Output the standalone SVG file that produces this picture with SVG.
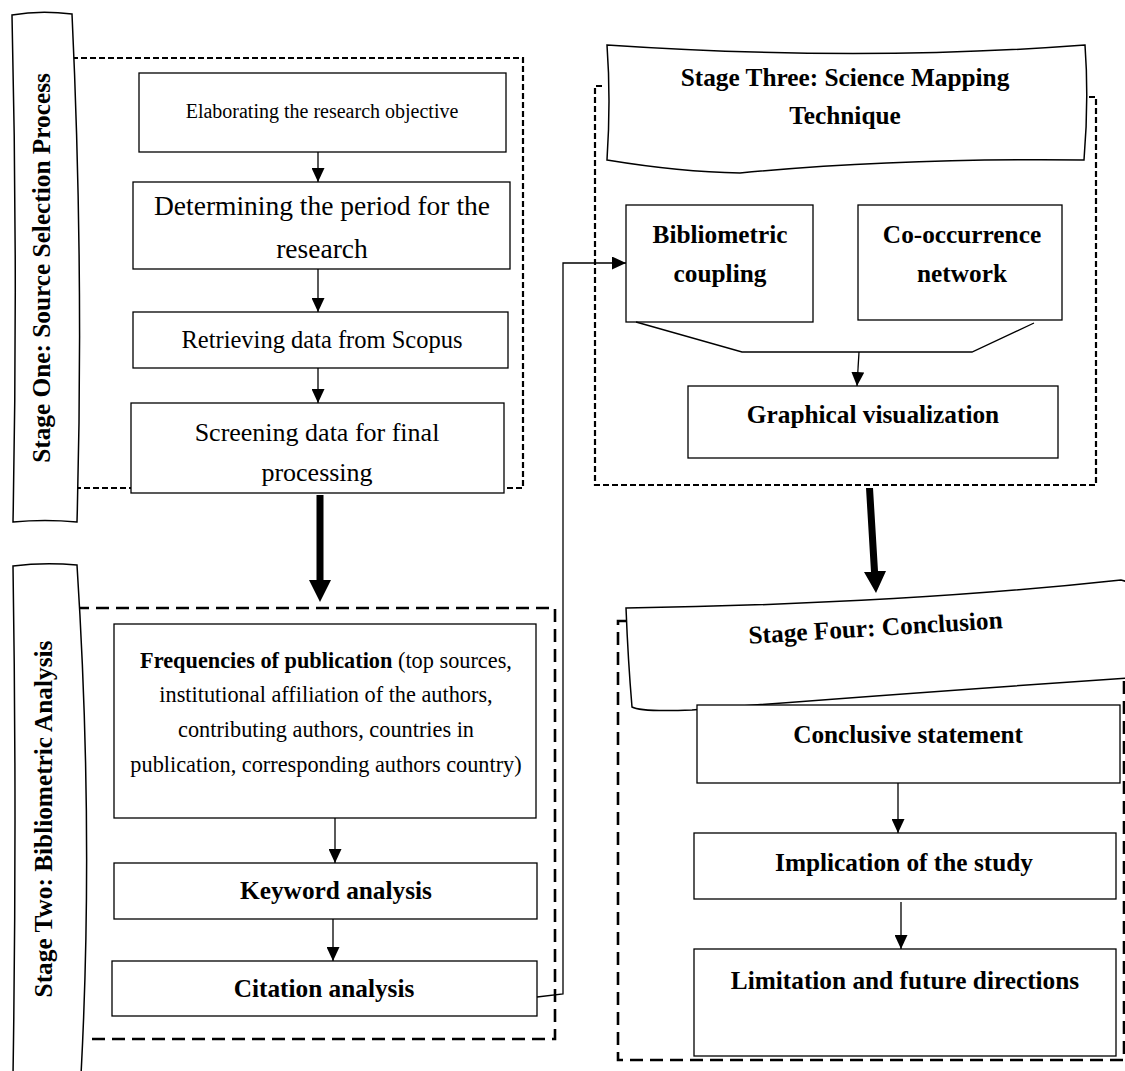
<svg xmlns="http://www.w3.org/2000/svg" width="1125" height="1071" viewBox="0 0 1125 1071">
<style>
.t{font-family:"Liberation Serif","Times New Roman",serif;fill:#000;text-anchor:middle}
.b{font-weight:bold;font-size:25.3px}
.box{fill:#fff;stroke:#000;stroke-width:1.3}
.ban{fill:#fff;stroke:#000;stroke-width:1.5}
.ds{fill:none;stroke:#000;stroke-width:2.2;stroke-dasharray:6 3}
.dl{fill:none;stroke:#000;stroke-width:2.6;stroke-dasharray:13 7}
.c{fill:none;stroke:#000;stroke-width:1.3}
.thick{fill:#000;stroke:none}
</style>
<defs>
<marker id="ah" viewBox="0 0 14 13" refX="14" refY="6.5" markerWidth="14" markerHeight="13" markerUnits="userSpaceOnUse" orient="auto">
<path d="M0,0 L14,6.5 L0,13 z" fill="#000"/>
</marker>
<clipPath id="clipScr"><rect x="130" y="400" width="380" height="88"/></clipPath>
</defs>

<g id="stage-frames">
<path class="ds" d="M72,58 H523 V488 H73"/>
<path class="dl" d="M76,608 H555 V1039 H86"/>
<path class="ds" d="M602,86 H595 V485 H1096 V97 H1086"/>
<path class="dl" d="M627,621 H618 V1060 H1124 V621"/>
</g>

<g id="stage-one-banner">
<path class="ban" d="M12,15 Q40,10 72,14 Q84,270 77,522 Q45,519 13,522 Q18,270 12,15 Z"/>
<text class="t b" transform="translate(50,268) rotate(-90)">Stage One: Source Selection Process</text>
</g>

<g id="stage-two-banner">
<path class="ban" d="M13,566 Q44,562 77,565 Q94,830 81,1075 L13,1075 Q17,820 13,566 Z"/>
<text class="t b" transform="translate(52,819) rotate(-90)">Stage Two: Bibliometric Analysis</text>
</g>

<g id="stage-three-banner">
<path class="ban" d="M607,45 Q860,62 1085,45 Q1089,100 1084,160 Q900,158 740,173 Q680,172 607,160 Q611,100 607,45 Z"/>
<text class="t b" x="845" y="86">Stage Three: Science Mapping</text>
<text class="t b" x="845" y="124">Technique</text>
</g>

<g id="stage-four-banner">
<path class="ban" d="M626,608 Q900,604 1121,580 L1128,582 L1128,678 Q880,695 692,710 Q640,712 632,707 Q628,660 626,608 Z"/>
<text class="t b" transform="translate(876,636) rotate(-3.5)">Stage Four: Conclusion</text>
</g>

<g id="node-elaborating">
<rect class="box" x="139" y="73" width="367" height="79"/>
<text class="t" x="322" y="118" font-size="20">Elaborating the research objective</text>
</g>
<g id="node-determining">
<rect class="box" x="133" y="182" width="377" height="87"/>
<text class="t" x="322" y="215" font-size="27.5">Determining the period for the</text>
<text class="t" x="322" y="258" font-size="27.5">research</text>
</g>
<g id="node-retrieving">
<rect class="box" x="133" y="312" width="375" height="56"/>
<text class="t" x="322" y="348" font-size="24.5">Retrieving data from Scopus</text>
</g>
<g id="node-screening">
<rect class="box" x="131" y="403" width="373" height="90"/>
<g clip-path="url(#clipScr)">
<text class="t" x="317" y="441" font-size="26">Screening data for final</text>
<text class="t" x="317" y="481" font-size="26">processing</text>
</g>
</g>

<g id="node-frequencies">
<rect class="box" x="114" y="624" width="422" height="194"/>
<text class="t" x="326" y="668" font-size="22.3"><tspan font-weight="bold">Frequencies of publication</tspan> (top sources,</text>
<text class="t" x="326" y="702" font-size="22.3">institutional affiliation of the authors,</text>
<text class="t" x="326" y="737" font-size="22.3">contributing authors, countries in</text>
<text class="t" x="326" y="772" font-size="22.3">publication, corresponding authors country)</text>
</g>
<g id="node-keyword">
<rect class="box" x="114" y="863" width="423" height="56"/>
<text class="t b" x="336" y="899">Keyword analysis</text>
</g>
<g id="node-citation">
<rect class="box" x="112" y="961" width="425" height="55"/>
<text class="t b" x="324" y="997">Citation analysis</text>
</g>

<g id="node-bibliometric">
<rect class="box" x="626" y="205" width="187" height="117"/>
<text class="t b" x="720" y="243">Bibliometric</text>
<text class="t b" x="720" y="282">coupling</text>
</g>
<g id="node-cooccurrence">
<rect class="box" x="858" y="205" width="204" height="115"/>
<text class="t b" x="962" y="243">Co-occurrence</text>
<text class="t b" x="962" y="282">network</text>
</g>
<g id="node-graphical">
<rect class="box" x="688" y="386" width="370" height="72"/>
<text class="t b" x="873" y="423">Graphical visualization</text>
</g>

<g id="node-conclusive">
<rect class="box" x="697" y="705" width="423" height="78"/>
<text class="t b" x="908" y="743">Conclusive statement</text>
</g>
<g id="node-implication">
<rect class="box" x="694" y="833" width="422" height="66"/>
<text class="t b" x="904" y="871">Implication of the study</text>
</g>
<g id="node-limitation">
<rect class="box" x="694" y="949" width="422" height="107"/>
<text class="t b" x="905" y="989">Limitation and future directions</text>
</g>

<g id="connectors">
<line class="c" x1="318" y1="152" x2="318" y2="182" marker-end="url(#ah)"/>
<line class="c" x1="318" y1="269" x2="318" y2="312" marker-end="url(#ah)"/>
<line class="c" x1="318" y1="368" x2="318" y2="403" marker-end="url(#ah)"/>
<line class="c" x1="335" y1="818" x2="335" y2="863" marker-end="url(#ah)"/>
<line class="c" x1="333" y1="919" x2="333" y2="961" marker-end="url(#ah)"/>
<polyline class="c" points="537,997 563,994 563,263 626,263" marker-end="url(#ah)"/>
<polyline class="c" points="636,322 742,352 972,352 1034,323"/>
<line class="c" x1="859" y1="352" x2="857" y2="386" marker-end="url(#ah)"/>
<line class="c" x1="898" y1="783" x2="898" y2="833" marker-end="url(#ah)"/>
<line class="c" x1="901" y1="902" x2="901" y2="949" marker-end="url(#ah)"/>
<path class="thick" d="M316.5,495 H323.5 V580 H331 L320,602 L309,580 H316.5 Z"/>
<path class="thick" d="M866,488 L873,488 L878,571 L886,571 L876,593 L864,572 L871,572 Z"/>
</g>
</svg>
